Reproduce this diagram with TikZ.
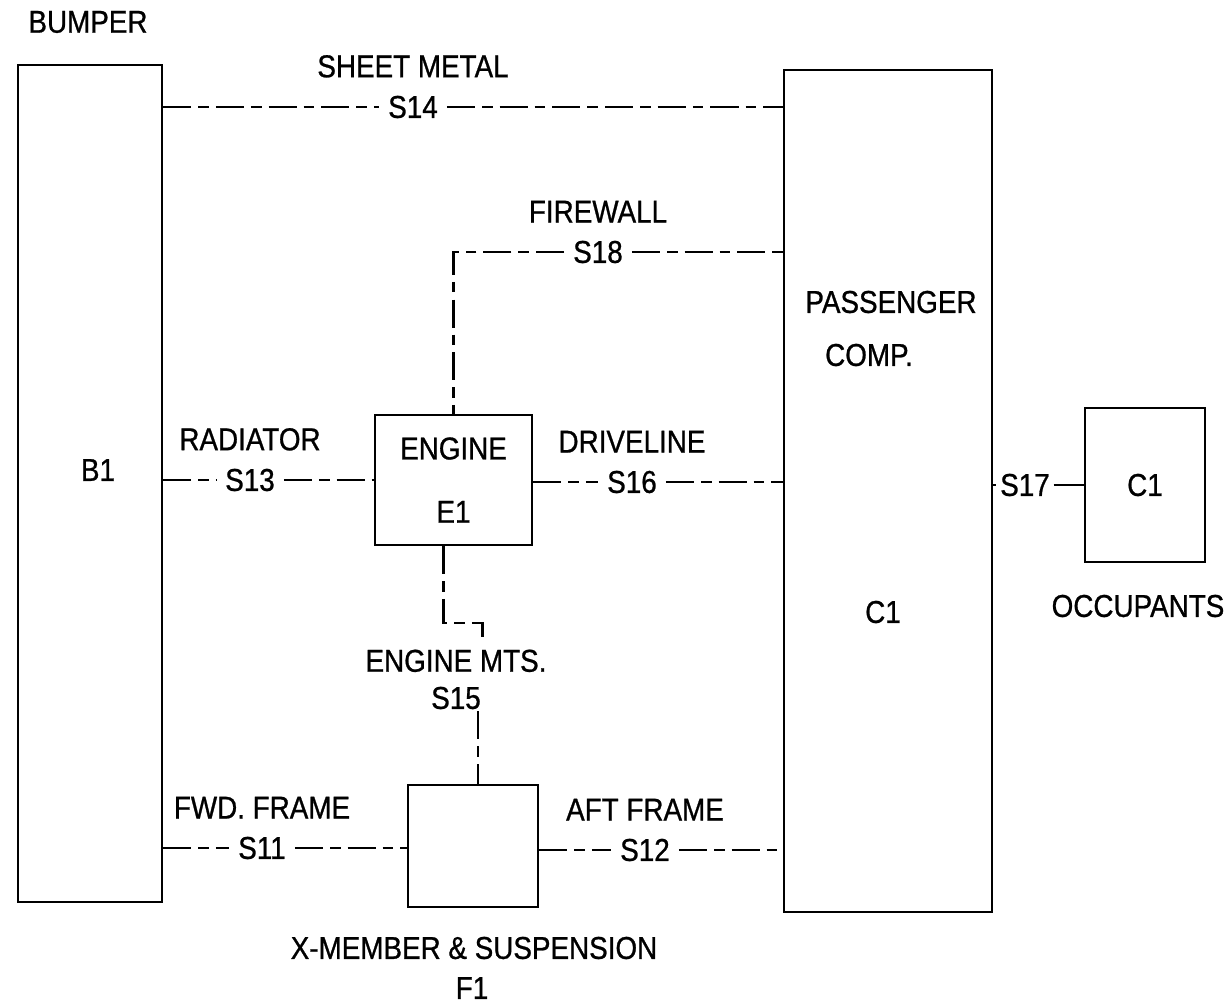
\documentclass[tikz,border=0pt]{standalone}
\usepackage{fontspec}
\setmainfont{Liberation Sans}[FakeStretch=0.88,FakeBold=0.8]
\usetikzlibrary{positioning,calc}

\tikzset{
  box/.style={draw,line width=1.3pt,inner sep=0pt},
  tag/.style={font=\fontsize{18}{21}\selectfont,inner ysep=1pt,inner xsep=5pt},
  link/.style={line width=1.2pt,dash pattern=on 16pt off 4pt on 6pt off 4pt},
}

\begin{document}
\begin{tikzpicture}[x=0.02cm,y=-0.02cm]
  \useasboundingbox (0,0) rectangle (1225,1008);
  % blocks
  \node[box,minimum width=2.88cm,minimum height=16.74cm] (bumper) at (90,483.5) {};
  \node[box,minimum width=4.16cm,minimum height=16.84cm] (pass) at (888,491) {};
  \node[box,minimum width=3.14cm,minimum height=2.6cm,align=center,tag] (engine) at (453.5,480)
    {ENGINE\\[15pt]E1};
  \node[box,minimum width=2.6cm,minimum height=2.44cm] (frame) at (473,846) {};
  \node[box,minimum width=2.4cm,minimum height=3.08cm,tag] (occ) at (1145,485) {C1};
  % block texts
  \node[tag] (bumpername) at (88,22) {BUMPER};
  \node[tag] (bname) at (98,470) {B1};
  \node[tag] (pname1) at (891,302) {PASSENGER};
  \node[tag] (pname2) at (869,355) {COMP.};
  \node[tag] (pid) at (883,612) {C1};
  \node[tag] (occname) at (1138,606) {OCCUPANTS};
  \node[tag] (framename) at (474,948) {X-MEMBER \& SUSPENSION};
  \node[tag] (frameid) at (472,988) {F1};
  % joint labels
  \node[tag] (s14) at (413,107) {S14};
  \node[tag,above=8pt of s14] (n14) {SHEET METAL};
  \node[tag] (s18) at (598,252) {S18};
  \node[tag,above=8pt of s18] (n18) {FIREWALL};
  \node[tag] (s13) at (250,480) {S13};
  \node[tag,above=8pt of s13] (n13) {RADIATOR};
  \node[tag] (s16) at (632,482) {S16};
  \node[tag,above=8pt of s16] (n16) {DRIVELINE};
  \node[tag,inner xsep=2pt] (s17) at (1025,485) {S17};
  \node[tag] (s15) at (456,698) {S15};
  \node[tag,above=6pt of s15] (n15) {ENGINE MTS.};
  \node[tag] (s11) at (262,848) {S11};
  \node[tag,above=8pt of s11] (n11) {FWD. FRAME};
  \node[tag] (s12) at (645,850) {S12};
  \node[tag,above=8pt of s12] (n12) {AFT FRAME};
  % connectors
  \draw[link] (bumper.east |- s14) -- (s14.west);
  \draw[link] (s14.east) -- (pass.west |- s14);
  \draw[link] (s18.east) -- (pass.west |- s18);
  \draw[link] (s18.west) -| (engine.north);
  \draw[link] (bumper.east |- s13) -- (s13.west);
  \draw[link] (s13.east) -- (engine.west |- s13);
  \draw[link] (engine.east |- s16) -- (s16.west);
  \draw[link] (s16.east) -- (pass.west |- s16);
  \draw[line width=1.2pt] (pass.east |- s17) -- (s17.west);
  \draw[line width=1.2pt] (s17.east) -- (occ.west |- s17);
  \draw[link] ($(engine.south)+(-10,0)$) -- ++(0,77) -- ++(39,0) -- ++(0,14) coordinate (mtsend);
  \draw[link] (s15.south -| frame.north) ++(5,0) -- ($(frame.north)+(5,0)$);
  \draw[link] (bumper.east |- s11) -- (s11.west);
  \draw[link] (s11.east) -- (frame.west |- s11);
  \draw[link] (frame.east |- s12) -- (s12.west);
  \draw[link] (s12.east) -- (pass.west |- s12);
\end{tikzpicture}
\end{document}
